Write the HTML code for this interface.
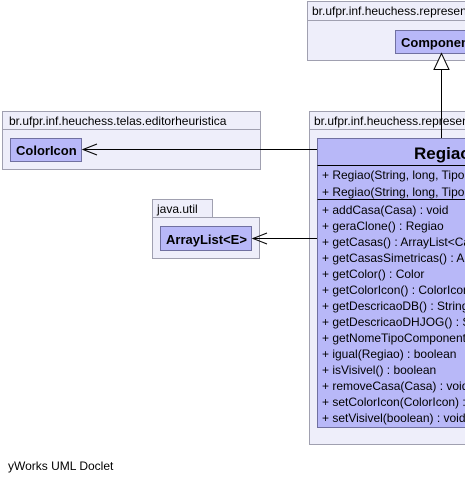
<!DOCTYPE html>
<html><head><meta charset="utf-8"><style>
html,body{margin:0;padding:0;background:#fff;}
svg{display:block;font-family:"Liberation Sans",Arial,sans-serif;}
</style></head><body>
<svg width="465" height="482" xmlns="http://www.w3.org/2000/svg">
<g stroke="#a0a0b0" stroke-width="1" fill="#eeeefa">
<rect x="307.5" y="1.5" width="170" height="19"/>
<rect x="307.5" y="20.5" width="170" height="40"/>
<rect x="2.5" y="111.5" width="258" height="18"/>
<rect x="2.5" y="129.5" width="258" height="40"/>
<rect x="152.5" y="199.5" width="60" height="18"/>
<rect x="152.5" y="217.5" width="107" height="41"/>
<rect x="309.5" y="111.5" width="170" height="18"/>
<rect x="309.5" y="129.5" width="170" height="315"/>
</g>
<g stroke="#7070a0" stroke-width="1" fill="#b8b8f8">
<rect x="395.5" y="30.5" width="80" height="23"/>
<rect x="10.5" y="138.5" width="71" height="23"/>
<rect x="160.5" y="226.5" width="91" height="24"/>
<rect x="317.5" y="138.5" width="160" height="289"/>
</g>
<g stroke="#000" stroke-width="1">
<line x1="317.5" y1="165.5" x2="478" y2="165.5"/>
<line x1="317.5" y1="199.5" x2="478" y2="199.5"/>
<line x1="441.5" y1="69" x2="441.5" y2="138"/>
<polygon points="441.5,53.5 434,69.5 449,69.5" fill="#fff"/>
<line x1="83" y1="149.5" x2="317" y2="149.5"/>
<polyline points="97,144 83,149.5 97,155" fill="none"/>
<line x1="253" y1="238.5" x2="317" y2="238.5"/>
<polyline points="267,233 253,238.5 267,244" fill="none"/>
</g>
<g font-size="12" fill="#000">
<text x="312" y="15">br.ufpr.inf.heuchess.representacao</text>
<text x="9" y="125">br.ufpr.inf.heuchess.telas.editorheuristica</text>
<text x="157" y="213">java.util</text>
<text x="314" y="125">br.ufpr.inf.heuchess.representacao</text>
<text x="8" y="470">yWorks UML Doclet</text>
</g>
<g font-size="13" font-weight="bold">
<text x="401" y="47">ComponenteTabuleiro</text>
<text x="16" y="155">ColorIcon</text>
<text x="166" y="244">ArrayList&lt;E&gt;</text>
</g>
<text x="414" y="159" font-size="17" font-weight="bold">Regiao</text>
<g font-size="12">
<text x="322" y="179">+ Regiao(String, long, TipoRegiao)</text>
<text x="322" y="196">+ Regiao(String, long, TipoRegiao, Color)</text>
<text x="322" y="214">+ addCasa(Casa) : void</text>
<text x="322" y="230">+ geraClone() : Regiao</text>
<text x="322" y="246">+ getCasas() : ArrayList&lt;Casa&gt;</text>
<text x="322" y="262">+ getCasasSimetricas() : ArrayList</text>
<text x="322" y="278">+ getColor() : Color</text>
<text x="322" y="294">+ getColorIcon() : ColorIcon</text>
<text x="322" y="310">+ getDescricaoDB() : String</text>
<text x="322" y="326">+ getDescricaoDHJOG() : String</text>
<text x="322" y="342">+ getNomeTipoComponente() : String</text>
<text x="322" y="358">+ igual(Regiao) : boolean</text>
<text x="322" y="374">+ isVisivel() : boolean</text>
<text x="322" y="390">+ removeCasa(Casa) : void</text>
<text x="322" y="406">+ setColorIcon(ColorIcon) : void</text>
<text x="322" y="422">+ setVisivel(boolean) : void</text>
</g>
</svg>
</body></html>
